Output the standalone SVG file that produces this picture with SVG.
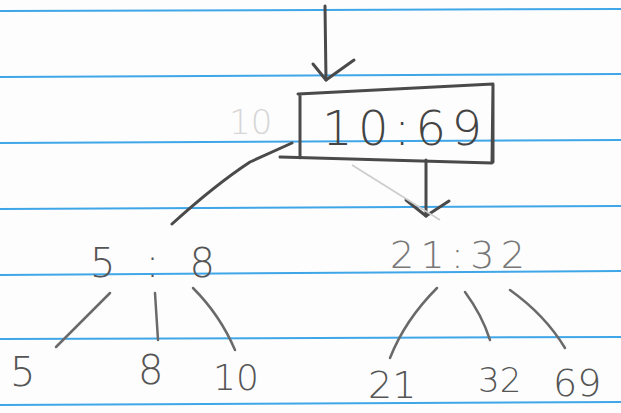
<svg xmlns="http://www.w3.org/2000/svg" width="621" height="413" viewBox="0 0 621 413">
<style>
.rule{stroke:#3fa6e8;stroke-width:2;fill:none}
.pen{stroke:#4a4a4a;stroke-width:3;fill:none;stroke-linecap:round;stroke-linejoin:round}
.pencil{stroke:#6a6a6a;stroke-width:2.5;fill:none;stroke-linecap:round}
.t{font-family:"DejaVu Sans","Liberation Sans",sans-serif;font-weight:300;fill:#555}
</style>
<rect width="621" height="413" fill="#fdfdfd"/>
<g id="paper">
<line class="rule" x1="0" y1="11" x2="621" y2="9"/>
<line class="rule" x1="0" y1="77" x2="621" y2="74"/>
<line class="rule" x1="0" y1="143" x2="621" y2="140"/>
<line class="rule" x1="0" y1="209" x2="621" y2="206"/>
<line class="rule" x1="0" y1="275" x2="621" y2="271"/>
<line class="rule" x1="0" y1="339" x2="621" y2="337"/>
<line class="rule" x1="0" y1="405" x2="621" y2="402"/>
</g>
<g id="connectors">
<path class="pen" d="M325 6 L326 80"/>
<path class="pen" d="M313 64 L326 80 L354 60"/>
<path class="pen" d="M292 143 L250 162 Q215 185 172 224"/>
<path class="pen" d="M426 160 L426 216"/>
<path class="pen" d="M406 200 L426 216 L449 201"/>
<path d="M352 165 L440 220" stroke="#ccc" stroke-width="1.5" fill="none"/>
<path class="pencil" d="M110 293 Q85 318 56 347"/>
<path class="pencil" d="M155 293 L158 340"/>
<path class="pencil" d="M193 288 Q220 315 235 350"/>
<path class="pencil" d="M437 288 Q405 320 390 358"/>
<path class="pencil" d="M465 292 Q482 315 490 340"/>
<path class="pencil" d="M510 290 Q545 315 565 348"/>
</g>
<g id="root">
<path class="pen" d="M300 95 L300 158 M298 94 L493 84 L492 163 L280 157 M493 84 L493 162"/>
<text class="t" x="229" y="134" font-size="34" style="fill:#d6d6d6">10</text>
<text class="t" x="322" y="145" font-size="48" textLength="160" lengthAdjust="spacing" style="fill:#444">10:69</text>
</g>
<g id="node-5-8">
<text class="t" x="90" y="277" font-size="40" textLength="125" lengthAdjust="spacing">5 : 8</text>
</g>
<g id="node-21-32">
<text class="t" x="390" y="268" font-size="38" textLength="135" lengthAdjust="spacing" style="fill:#777">21:32</text>
</g>
<g id="leaf-5"><text class="t" x="10" y="386" font-size="40">5</text></g>
<g id="leaf-8"><text class="t" x="138" y="384" font-size="40">8</text></g>
<g id="leaf-10"><text class="t" x="213" y="390" font-size="36">10</text></g>
<g id="leaf-21"><text class="t" x="368" y="398" font-size="38">21</text></g>
<g id="leaf-32"><text class="t" x="478" y="392" font-size="34">32</text></g>
<g id="leaf-69"><text class="t" x="553" y="396" font-size="38">69</text></g>
</svg>
